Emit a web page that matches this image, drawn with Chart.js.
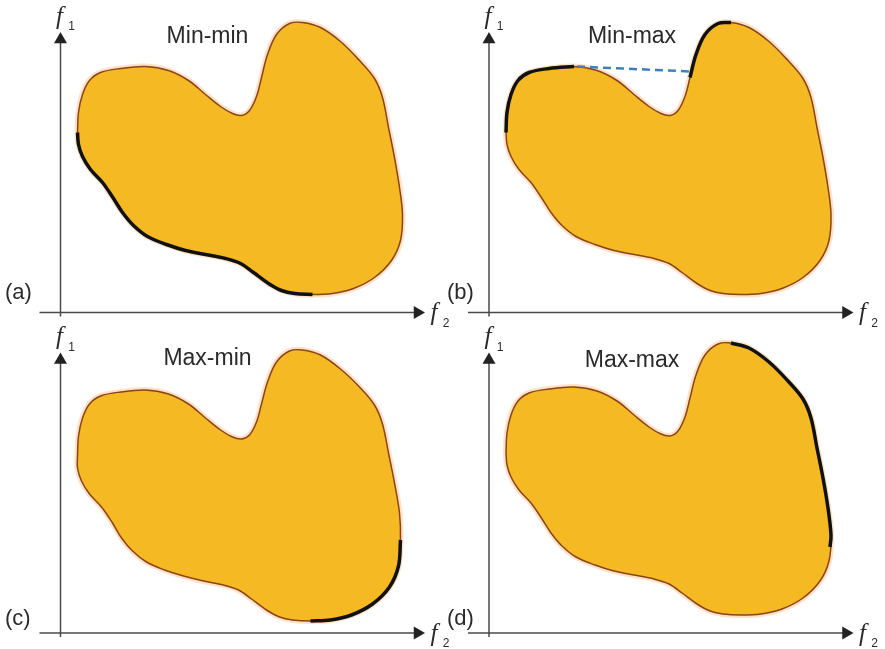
<!DOCTYPE html>
<html>
<head>
<meta charset="utf-8">
<script src="https://cdn.jsdelivr.net/npm/chart.js@4.4.1/dist/chart.umd.min.js"></script>
<style>
html, body { margin: 0; padding: 0; background: #fff; }
#wrap { position: relative; width: 885px; height: 649px; }
</style>
</head>
<body>
<div id="wrap"><canvas id="fig" width="885" height="649"></canvas></div>
<script>
// feasible region outline as [f2, f1], clockwise from the left-most point
const region = [
    [17, 180], [18, 200], [22, 218], [29, 232], [40, 240], [60, 244], [85, 246],
    [108, 242], [128, 232], [145, 218], [160, 206], [172, 199], [181, 197],
    [189, 202], [196, 216], [201, 235], [207, 258], [216, 278], [229, 289],
    [242, 290], [260, 285], [280, 271], [299, 252], [314, 234], [322, 215],
    [328, 185], [334, 155], [339, 125], [342, 98], [340, 72], [331, 52],
    [314, 35], [293, 24], [272, 19], [252, 18], [234, 19], [221, 22], [208, 29],
    [193, 40], [180, 49], [165, 54], [145, 58], [125, 62], [106, 68], [87, 76],
    [73, 87], [62, 100], [53, 114], [42, 130], [30, 143], [22, 156], [18, 168],
    [17, 180],
];
// panel (c) draws the region a little lower
const regionC = [
    [17, 178], [18, 197], [22, 215], [29, 229], [40, 237], [60, 241], [85, 243],
    [108, 239], [128, 229], [145, 215], [160, 203], [172, 196], [181, 194],
    [189, 198], [196, 211], [201, 229], [207, 251], [216, 271], [229, 282],
    [242, 283], [260, 278], [280, 264], [299, 246], [314, 228], [322, 209],
    [328, 180], [334, 150], [339, 120], [340, 93], [338, 67], [329, 46],
    [312, 29], [291, 18], [270, 13], [250, 12], [232, 13], [219, 16], [206, 23],
    [191, 34], [178, 43], [163, 48], [143, 52], [123, 57], [104, 63], [86, 71],
    [72, 82], [61, 95], [52, 110], [41, 126], [29, 139], [21, 152], [17, 165],
    [17, 178],
];

// pareto fronts for each case
const minMinFront = [
    [252, 18], [234, 19], [221, 22], [208, 29], [193, 40], [180, 49], [165, 54],
    [145, 58], [125, 62], [106, 68], [87, 76], [73, 87], [62, 100], [53, 114],
    [42, 130], [30, 143], [22, 156], [18, 168], [17, 180],
];
const minMaxFrontLeft = [[17, 180], [18, 200], [22, 218], [29, 232], [40, 240], [60, 244], [85, 246]];
const minMaxFrontRight = [[201, 235], [207, 258], [216, 278], [229, 289], [242, 290]];
const minMaxGap = [[88, 246], [202, 241]];
const maxMinFront = [[340, 93], [338, 67], [329, 46], [312, 29], [291, 18], [270, 13], [250, 12]];
const maxMaxFront = [
    [242, 290], [260, 285], [280, 271], [299, 252], [314, 234], [322, 215],
    [328, 185], [334, 155], [339, 125], [342, 98], [341, 86],
];

// axis lines (f2 axis, f1 axis)
const f2Axis = [[-21, 0], [357, 0]];
const f1Axis = [[0, -4], [0, 273]];

const W = 885, H = 649;
const panels = [
    { key: "a", title: "Min-min", ox: 60.5, oy: 312.5, titleAt: [147, 270], letterAt: [-55.5, 14],
      outline: region, fronts: [minMinFront], gap: null },
    { key: "b", title: "Min-max", ox: 489, oy: 312.5, titleAt: [143, 270], letterAt: [-42, 14],
      outline: region, fronts: [minMaxFrontLeft, minMaxFrontRight], gap: minMaxGap },
    { key: "c", title: "Max-min", ox: 60.5, oy: 633, titleAt: [147, 268], letterAt: [-55.5, 8],
      outline: regionC, fronts: [maxMinFront], gap: null },
    { key: "d", title: "Max-max", ox: 489, oy: 633, titleAt: [143, 266], letterAt: [-42, 8],
      outline: region, fronts: [maxMaxFront], gap: null },
];

const pts = arr => arr.map(([x, y]) => ({ x, y }));

const datasets = [];
const scales = {};
panels.forEach(p => {
    const xId = "x" + p.key, yId = "y" + p.key;
    scales[xId] = { type: "linear", display: false, min: -p.ox, max: W - p.ox };
    scales[yId] = { type: "linear", display: false, min: -(H - p.oy), max: p.oy };
    const base = { xAxisID: xId, yAxisID: yId, showLine: true, pointRadius: 0 };

    datasets.push({ ...base, data: pts(p.outline), borderColor: "rgba(250,170,100,0.35)",
        borderWidth: 6, tension: 0.35, fill: false, order: 6 });
    datasets.push({ ...base, data: pts(p.outline), borderColor: "#8a4416", backgroundColor: "#f5b923",
        borderWidth: 1.5, tension: 0.35, fill: "shape", order: 5 });
    p.fronts.forEach(f => datasets.push({ ...base, data: pts(f), borderColor: "#111",
        borderWidth: 3.5, tension: 0.35, fill: false, order: 2 }));
    if (p.gap) {
        datasets.push({ ...base, data: pts(p.gap), borderColor: "#3d7fbf", borderWidth: 2.5,
            borderDash: [8, 5], fill: false, order: 3 });
    }
    datasets.push({ ...base, data: pts(f2Axis), borderColor: "#4a4a4a", borderWidth: 1.5,
        pointRadius: [0, 7.5], pointStyle: "triangle", pointRotation: [0, 90],
        pointBackgroundColor: "#222", pointBorderWidth: 0, fill: false, order: 1 });
    datasets.push({ ...base, data: pts(f1Axis), borderColor: "#4a4a4a", borderWidth: 1.5,
        pointRadius: [0, 7.5], pointStyle: "triangle", pointRotation: [0, 0],
        pointBackgroundColor: "#222", pointBorderWidth: 0, fill: false, order: 1 });
});

function axisName(ctx, sub, x, y) {
    ctx.font = "italic 25px 'Liberation Serif', serif";
    ctx.textAlign = "center";
    ctx.textBaseline = "middle";
    ctx.fillText("f", x, y);
    ctx.font = "12px 'Liberation Sans', sans-serif";
    ctx.fillText(sub, x + 12, y + 10);
}

const figureText = {
    id: "figureText",
    afterDatasetsDraw(chart) {
        const ctx = chart.ctx;
        panels.forEach(p => {
            const xs = chart.scales["x" + p.key], ys = chart.scales["y" + p.key];
            const px = v => xs.getPixelForValue(v), py = v => ys.getPixelForValue(v);
            ctx.save();
            ctx.fillStyle = "#2a2a2a";
            ctx.textBaseline = "alphabetic";
            ctx.textAlign = "center";
            ctx.font = "23px 'Liberation Sans', Arial, sans-serif";
            ctx.fillText(p.title, px(p.titleAt[0]), py(p.titleAt[1]));
            ctx.textAlign = "left";
            ctx.font = "22px 'Liberation Sans', Arial, sans-serif";
            ctx.fillText("(" + p.key + ")", px(p.letterAt[0]), py(p.letterAt[1]));
            // f1 above the vertical arrow, f2 right of the horizontal arrow
            axisName(ctx, "1", px(0) - 1, py(f1Axis[1][1] + 7.5) - 15);
            axisName(ctx, "2", px(f2Axis[1][0] + 7.5) + 9, py(0) + 1);
            ctx.restore();
        });
    }
};

new Chart(document.getElementById("fig"), {
    type: "scatter",
    data: { datasets },
    options: {
        responsive: false,
        animation: false,
        events: [],
        layout: { padding: 0, autoPadding: false },
        scales,
        plugins: { legend: { display: false }, tooltip: { enabled: false } },
    },
    plugins: [figureText],
});
</script>
</body>
</html>
